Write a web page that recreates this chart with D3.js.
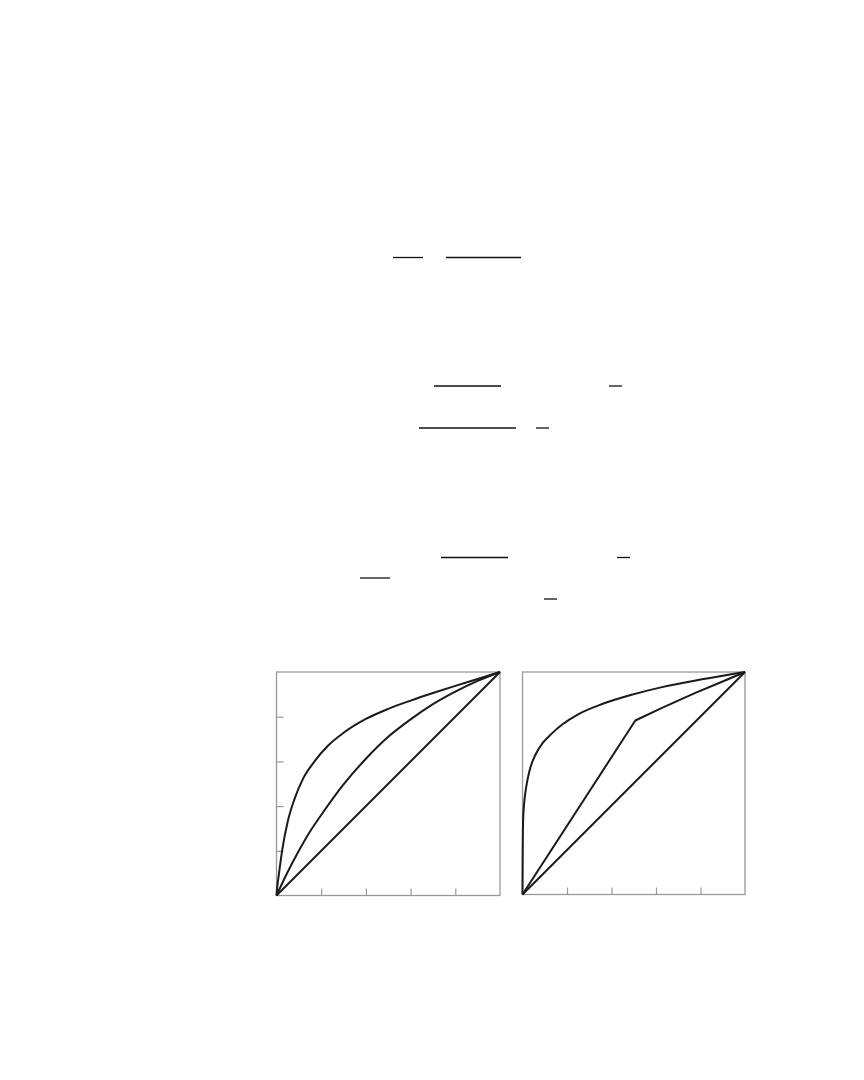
<!DOCTYPE html>
<html>
<head>
<meta charset="utf-8">
<script src="https://cdn.jsdelivr.net/npm/d3@7"></script>
<style>
  body { margin: 0; background: #fff; }
  svg { display: block; }
</style>
</head>
<body>
<div id="page"></div>
<script>
// tick values shared by both panels (share of population / income)
var tickValues = [0.2, 0.4, 0.6, 0.8];

// left panel: equality line and two Lorenz curves
var leftEquality = [[0, 0], [1, 1]];
var leftMiddle = [[0, 0], [0.05, 0.105], [0.1, 0.2], [0.15, 0.286], [0.2, 0.36], [0.3, 0.497],
    [0.4, 0.612], [0.5, 0.71], [0.6, 0.788], [0.7, 0.856], [0.8, 0.912], [0.9, 0.96], [1, 1]];
var leftUpper = [[0, 0], [0.003, 0.035], [0.01, 0.09], [0.025, 0.2], [0.05, 0.33], [0.08, 0.43],
    [0.12, 0.525], [0.17, 0.6], [0.23, 0.67], [0.3, 0.728], [0.4, 0.79], [0.5, 0.835],
    [0.6, 0.872], [0.7, 0.906], [0.8, 0.938], [0.9, 0.969], [1, 1]];

// right panel: equality line, kinked curve, strongly concave curve
var rightEquality = [[0, 0], [1, 1]];
var rightKinked = [[0, 0], [0.507, 0.782], [0.627, 0.839], [0.777, 0.906], [0.897, 0.956], [1, 1]];
var rightUpper = [[0, 0], [0.001, 0.2], [0.003, 0.34], [0.007, 0.405], [0.016, 0.479],
    [0.031, 0.554], [0.058, 0.628], [0.09, 0.68], [0.13, 0.722], [0.18, 0.765],
    [0.25, 0.81], [0.358, 0.856], [0.478, 0.894], [0.627, 0.932], [0.807, 0.967], [1, 1]];

// fraction bars left over from the equations above the figure
var bars = [
    [393, 423, 257.5], [446, 521, 257.5],
    [434, 501, 386], [609, 622, 386],
    [419, 516, 428], [536, 549, 428],
    [441, 508, 557.5], [617, 630, 557.5],
    [360, 390, 578],
    [544, 557, 599]
];

var w = 864,
    h = 1080;

var svg = d3.select("#page").append("svg")
    .attr("width", w)
    .attr("height", h);

svg.append("rect")
    .attr("width", w)
    .attr("height", h)
    .attr("fill", "#fff");

svg.selectAll(".bar")
    .data(bars)
    .enter().append("line")
    .attr("class", "bar")
    .attr("x1", function(d) { return d[0]; })
    .attr("x2", function(d) { return d[1]; })
    .attr("y1", function(d) { return d[2]; })
    .attr("y2", function(d) { return d[2]; })
    .attr("stroke", "#111")
    .attr("stroke-width", 1.3);

function drawPanel(left, top, size, curves, leftTicks) {
    var x = d3.scaleLinear().domain([0, 1]).range([left, left + size]);
    var y = d3.scaleLinear().domain([0, 1]).range([top + size, top]);

    var g = svg.append("g");

    g.append("g")
        .attr("transform", "translate(0," + (top + size) + ")")
        .call(d3.axisBottom(x).tickValues(tickValues).tickSize(-7).tickFormat(""))
        .call(function(a) { a.select(".domain").remove(); })
        .selectAll("line").attr("stroke", "#999").attr("stroke-width", 1.2);

    if (leftTicks) {
        g.append("g")
            .attr("transform", "translate(" + left + ",0)")
            .call(d3.axisLeft(y).tickValues(tickValues).tickSize(-7).tickFormat(""))
            .call(function(a) { a.select(".domain").remove(); })
            .selectAll("line").attr("stroke", "#999").attr("stroke-width", 1.2);
    }

    g.append("rect")
        .attr("x", x(0))
        .attr("y", y(1))
        .attr("width", x(1) - x(0))
        .attr("height", y(0) - y(1))
        .attr("fill", "none")
        .attr("stroke", "#999")
        .attr("stroke-width", 1.3);

    var smooth = d3.line()
        .x(function(d) { return x(d[0]); })
        .y(function(d) { return y(d[1]); })
        .curve(d3.curveMonotoneX);

    var straight = d3.line()
        .x(function(d) { return x(d[0]); })
        .y(function(d) { return y(d[1]); });

    g.selectAll(".curve")
        .data(curves)
        .enter().append("path")
        .attr("class", "curve")
        .attr("d", function(d) { return d.smooth ? smooth(d.pts) : straight(d.pts); })
        .attr("fill", "none")
        .attr("stroke", "#1a1a1a")
        .attr("stroke-width", 2)
        .attr("stroke-linejoin", "round");
}

drawPanel(276.5, 672, 223.5, [
    { pts: leftEquality, smooth: false },
    { pts: leftMiddle, smooth: true },
    { pts: leftUpper, smooth: true }
], true);

drawPanel(522.5, 672, 222.5, [
    { pts: rightEquality, smooth: false },
    { pts: rightKinked, smooth: false },
    { pts: rightUpper, smooth: true }
], false);
</script>
</body>
</html>
